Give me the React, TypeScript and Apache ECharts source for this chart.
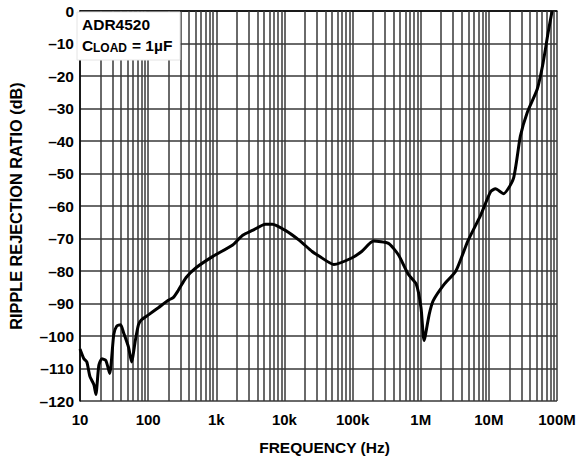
import React, { useEffect, useRef } from "react";
import * as echarts from "echarts";

const freqHz = [
  10, 11.4, 12.6, 14, 16, 17.1, 18.9, 20.9, 23.9, 27.3, 31.3, 34.5, 39.5, 43.6, 51.6, 57.1, 65.3, 72.2, 79.8,
  101, 141, 197, 233, 276, 361, 504, 892, 1740, 2440, 3400, 5270, 6660, 10300, 16400, 25500, 32200, 53200,
  97300, 136000, 203000, 336000, 470000, 657000, 859000, 1010000, 1120000, 1330000, 1520000, 2190000,
  3280000, 4910000, 7590000, 10600000, 12500000, 16400000, 22900000, 29000000, 36600000, 51200000,
  62600000, 74000000, 84700000,
];
const rejectionDb = [
  -104, -107, -108, -112.5, -115, -118, -109, -107, -107.5, -111.5, -99.5, -97, -96.5, -99, -103.5, -108, -101,
  -96.5, -95, -93.5, -91.3, -89, -88.2, -86, -82, -79, -75.5, -72, -69, -67.5, -65.6, -65.6, -67.5, -70.5, -74,
  -75.4, -78, -76, -74, -70.8, -71.5, -75, -81, -84, -91.3, -101.4, -93.4, -89.2, -84.2, -80, -70.8, -62.8,
  -55.6, -54.7, -56.2, -51.6, -38.5, -31.2, -24.1, -15.9, -6.7, 0,
];
const xTickLabels = ["10", "100", "1k", "10k", "100k", "1M", "10M", "100M"];
const minorGridFreqs: number[] = [];
for (let d = 1; d < 8; d++) {
  for (let m = 2; m <= 9; m++) minorGridFreqs.push(m * Math.pow(10, d));
}

const FONT = "'Liberation Sans', Arial, sans-serif";
const GRID_COLOR = "#383838";

export default function App() {
  const ref = useRef<HTMLDivElement>(null);
  useEffect(() => {
    if (!ref.current) return;
    const chart = echarts.init(ref.current, null, { renderer: "svg" });
    const data = freqHz.map((f, i) => [f, rejectionDb[i]]);
    chart.setOption({
      animation: false,
      backgroundColor: "#fff",
      grid: { left: 76, right: 28, top: 11, bottom: 56, containLabel: false },
      xAxis: {
        type: "log",
        logBase: 10,
        min: 10,
        max: 1e8,
        splitNumber: 7,
        name: "FREQUENCY (Hz)",
        nameLocation: "middle",
        nameGap: 38,
        nameTextStyle: { fontFamily: FONT, fontWeight: "bold", fontSize: 15.5, color: "#000", padding: [0, 0, 0, 12] },
        axisLine: { show: true, lineStyle: { color: "#000", width: 1.5 } },
        axisTick: { show: false },
        axisLabel: {
          margin: 11,
          fontFamily: FONT,
          fontWeight: "bold",
          fontSize: 15,
          color: "#000",
          formatter: (v: number) => xTickLabels[Math.round(Math.log10(v)) - 1] ?? "",
        },
        splitLine: { show: true, lineStyle: { color: GRID_COLOR, width: 1.5 } },
      },
      yAxis: {
        type: "value",
        min: -120,
        max: 0,
        interval: 10,
        name: "RIPPLE REJECTION RATIO (dB)",
        nameLocation: "middle",
        nameGap: 56,
        nameRotate: 90,
        nameTextStyle: { fontFamily: FONT, fontWeight: "bold", fontSize: 16.3, color: "#000" },
        axisLine: { show: true, lineStyle: { color: "#000", width: 1.5 } },
        axisTick: { show: false },
        axisLabel: {
          margin: 6,
          fontFamily: FONT,
          fontWeight: "bold",
          fontSize: 15.5,
          color: "#000",
          formatter: (v: number) => (v === 0 ? "0" : "\u2013" + Math.abs(v)),
        },
        splitLine: { show: true, lineStyle: { color: GRID_COLOR, width: 1.5 } },
      },
      series: [
        {
          type: "line",
          data: [],
          silent: true,
          z: 1,
          markLine: {
            silent: true,
            symbol: "none",
            label: { show: false },
            lineStyle: { color: GRID_COLOR, width: 1.5, type: "solid" },
            data: minorGridFreqs.map((f) => ({ xAxis: f })),
          },
        },
        {
          type: "line",
          data,
          z: 5,
          smooth: 0.2,
          showSymbol: false,
          lineStyle: { color: "#000", width: 3 },
        },
      ],
      graphic: [
        {
          type: "group",
          z: 100,
          children: [
            {
              type: "rect",
              shape: { x: 77, y: 12, width: 103, height: 48 },
              style: { fill: "#fff", stroke: "#e4e4e4", lineWidth: 1 },
              z: 100,
            },
            {
              type: "text",
              x: 82,
              y: 24,
              z: 101,
              style: { text: "ADR4520", fontFamily: FONT, fontWeight: "bold", fontSize: 15.5, fill: "#000", verticalAlign: "middle" },
            },
            {
              type: "text",
              x: 82,
              y: 45,
              z: 101,
              style: { text: "C", fontFamily: FONT, fontWeight: "bold", fontSize: 15.5, fill: "#000", verticalAlign: "middle" },
            },
            {
              type: "text",
              x: 93,
              y: 48,
              z: 101,
              style: { text: "LOAD", fontFamily: FONT, fontWeight: "bold", fontSize: 12, fill: "#000", verticalAlign: "middle" },
            },
            {
              type: "text",
              x: 132,
              y: 45,
              z: 101,
              style: { text: "= 1\u00b5F", fontFamily: FONT, fontWeight: "bold", fontSize: 15.5, fill: "#000", verticalAlign: "middle" },
            },
          ],
        },
      ],
    });
    return () => chart.dispose();
  }, []);
  return <div ref={ref} style={{ width: 585, height: 460, position: "absolute", left: 0, top: 0 }} />;
}
